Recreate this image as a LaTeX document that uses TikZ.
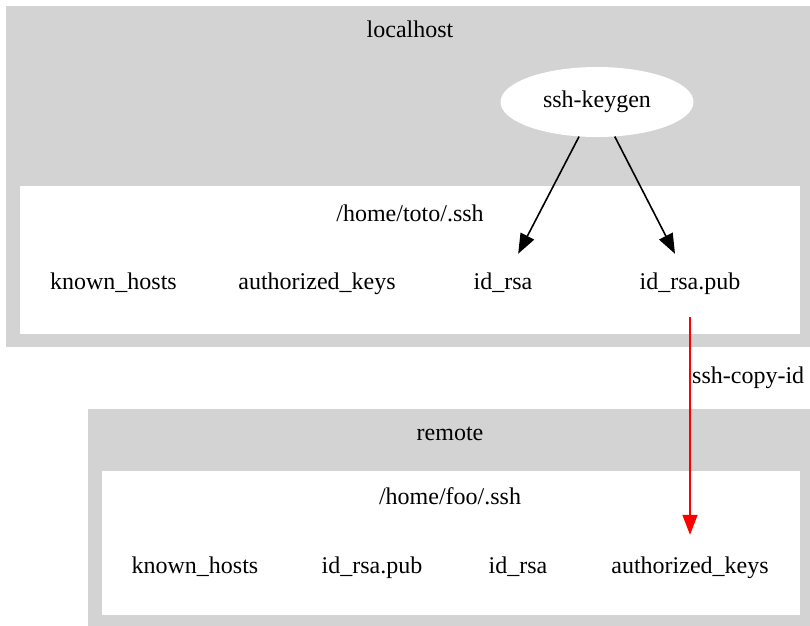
\documentclass[tikz,border=0pt]{standalone}
\usepackage{fontspec}
\setmainfont{Liberation Serif}
\usetikzlibrary{arrows.meta,shapes.geometric}
\definecolor{clgray}{HTML}{D3D3D3}
\tikzset{
  lbl/.style={inner sep=0pt, anchor=base, font=\fontsize{24}{28}\selectfont},
  file/.style={inner sep=0pt, text height=17pt, text depth=5pt, minimum height=58pt, font=\fontsize{24}{28}\selectfont},
  gen/.style={ellipse, fill=white, inner sep=0pt, minimum width=193pt, minimum height=70pt, font=\fontsize{24}{28}\selectfont},
  outer/.style={fill=clgray, draw=clgray},
  inner/.style={fill=white, draw=white},
  blk/.style={draw=black, line width=1.6pt, -{Triangle[width=15pt,length=20pt]}},
  red/.style={draw=red, line width=1.6pt, -{Triangle[width=15pt,length=20pt]}}
}
\begin{document}
\begin{tikzpicture}[x=1pt,y=-1pt]
\useasboundingbox (0,0) rectangle (810,625);
% clusters
\path[outer] (6,6) rectangle (812,346);
\path[inner] (20,186) rectangle (799,333);
\path[outer] (88,409) rectangle (812,627);
\path[inner] (102,471) rectangle (799,614);
% cluster labels
\node[lbl] (lhost) at (410,37) {localhost};
\node[lbl] (lssh) at (410,221) {/home/toto/.ssh};
\node[lbl] (rhost) at (450,440.5) {remote};
\node[lbl] (rssh) at (450,504) {/home/foo/.ssh};
% nodes
\node[gen] (kg) at (597,102) {ssh-keygen};
\node[file] (lkh) at (113.5,283) {known\_hosts};
\node[file] (lak) at (317,283) {authorized\_keys};
\node[file] (lid) at (503,283) {id\_rsa};
\node[file] (lpub) at (690,283) {id\_rsa.pub};
\node[file] (rkh) at (195,567) {known\_hosts};
\node[file] (rpub) at (372,567) {id\_rsa.pub};
\node[file] (rid) at (518,567) {id\_rsa};
\node[file] (rak) at (690,567) {authorized\_keys};
% edges
\draw[blk] (kg) -- (lid);
\draw[blk] (kg) -- (lpub);
\draw[red, shorten <=5pt, shorten >=3pt] (lpub) -- (rak);
\node[lbl, anchor=base west] (cpy) at (692,383) {ssh-copy-id};
\end{tikzpicture}
\end{document}
